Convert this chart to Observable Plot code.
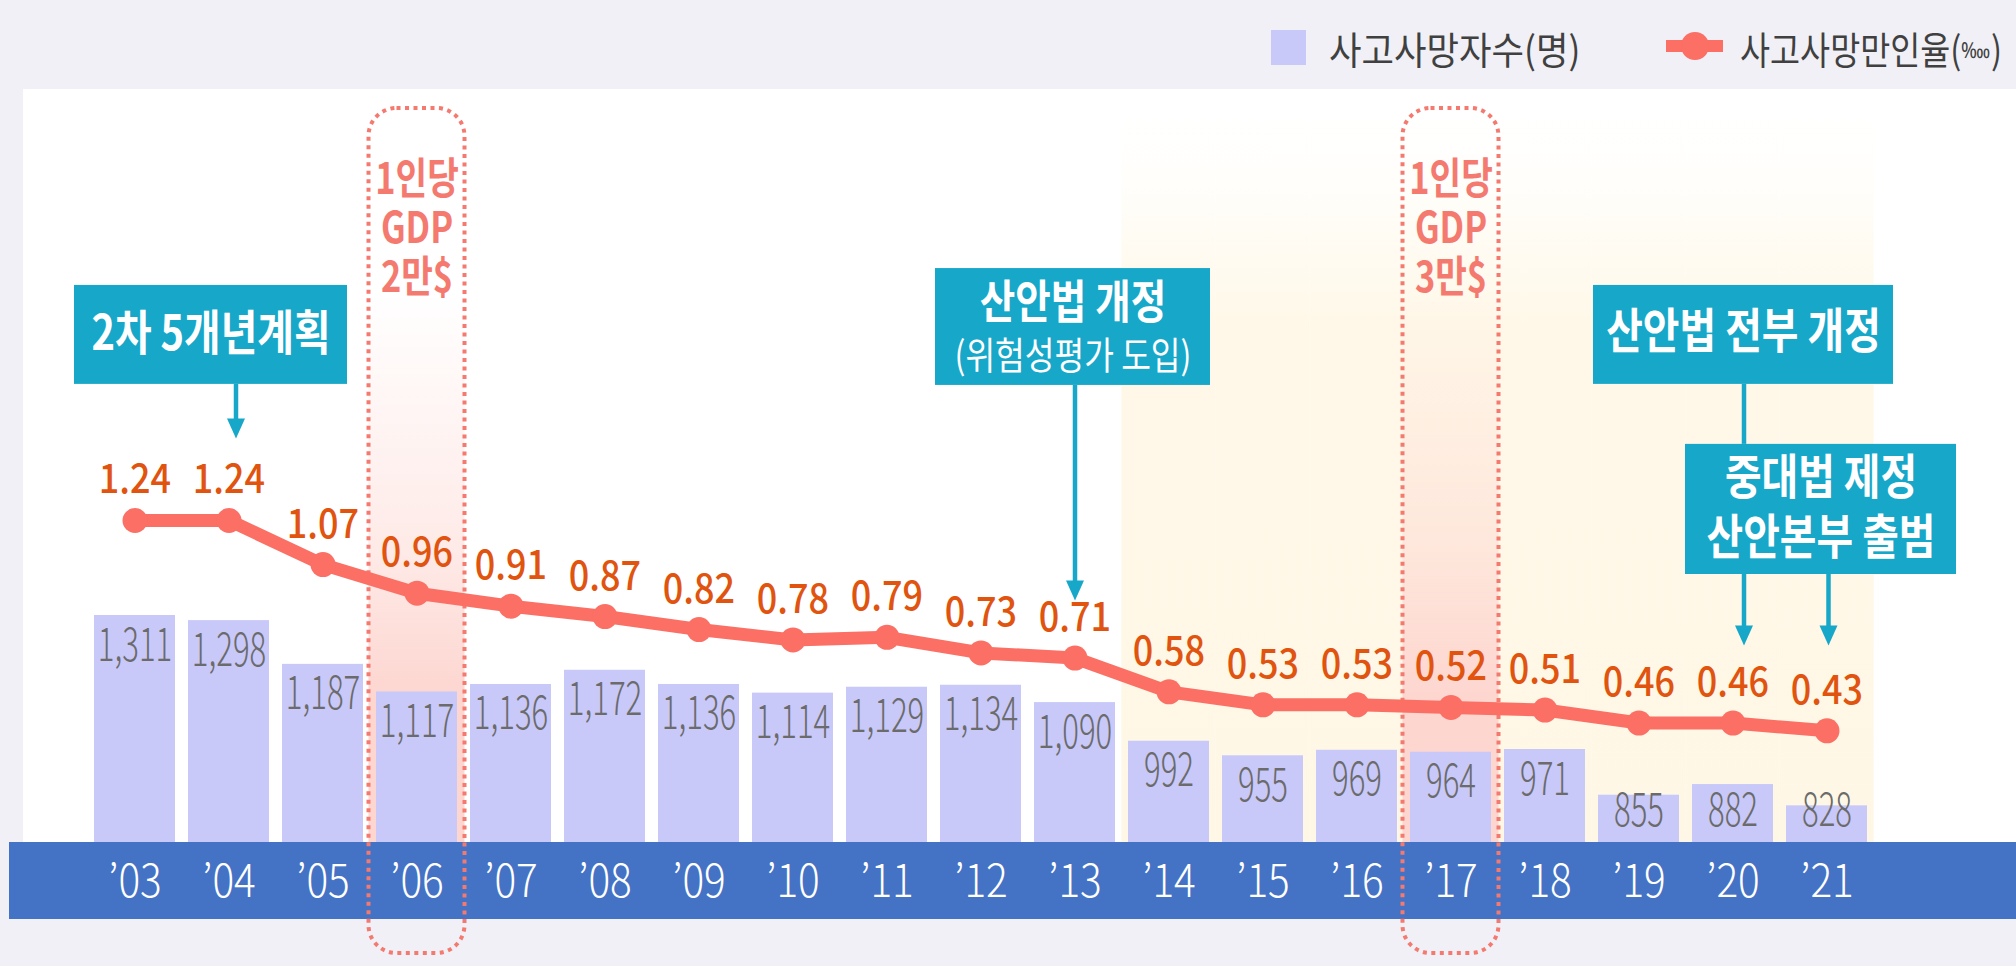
<!DOCTYPE html>
<html>
<head>
<meta charset="utf-8">
<script src="https://cdn.jsdelivr.net/npm/d3@7"></script>
<script src="https://cdn.jsdelivr.net/npm/@observablehq/plot@0.6"></script>
<style>
  html, body { margin: 0; padding: 0; background: #f0f0f6; }
  #wrap { position: relative; width: 2016px; height: 966px; overflow: hidden; font-family: "Noto Sans CJK KR", sans-serif; }
  #panel { position: absolute; left: 23px; top: 89px; width: 1993px; height: 753px; background: #ffffff; }
  #band { position: absolute; left: 9px; top: 842px; width: 2007px; height: 77px; background: #4472c4; }
  .layer { position: absolute; left: 0; top: 0; }
</style>
</head>
<body>
<div id="wrap">
  <div id="panel"></div>
  <div id="band"></div>
</div>
<script>
// ---------------- data ----------------
const years  = ["’03","’04","’05","’06","’07","’08","’09","’10","’11","’12","’13","’14","’15","’16","’17","’18","’19","’20","’21"];
const deaths = [1311, 1298, 1187, 1117, 1136, 1172, 1136, 1114, 1129, 1134, 1090, 992, 955, 969, 964, 971, 855, 882, 828];
const rates  = [1.24, 1.24, 1.07, 0.96, 0.91, 0.87, 0.82, 0.78, 0.79, 0.73, 0.71, 0.58, 0.53, 0.53, 0.52, 0.51, 0.46, 0.46, 0.43];
const gdpYears  = ["’06", "’17"];
const gdpLabels = ["1인당\nGDP\n2만$", "1인당\nGDP\n3만$"];
const creamYears = years.slice(11); // ’14 – ’21
const legendLabels = ["사고사망자수(명)", "사고사망만인율("];
const legendUnit = "‱";

// annotation boxes (y in ‰ units of the rate axis)
const noteBoxes = [
  {year: "’04", y1: 1.764, y2: 2.145, insetLeft: -114, insetRight: -78},
  {year: "’13", y1: 1.760, y2: 2.210, insetLeft: -99,  insetRight: -95},
  {year: "’20", y1: 1.764, y2: 2.145, insetLeft: -99,  insetRight: -120},
  {year: "’21", y1: 1.032, y2: 1.533, insetLeft: -101, insetRight: -89}
];
const noteTexts = [
  {year: "’04", y: 1.956, dx: -18,  text: "2차 5개년계획",     size: 48, weight: 700},
  {year: "’13", y: 2.077, dx: -2,   text: "산안법 개정",       size: 46, weight: 700},
  {year: "’13", y: 1.871, dx: -2,   text: "(위험성평가 도입)", size: 38, weight: 400},
  {year: "’20", y: 1.964, dx: 10.5, text: "산안법 전부 개정",  size: 48, weight: 700},
  {year: "’21", y: 1.403, dx: -6,   text: "중대법 제정",       size: 48, weight: 700},
  {year: "’21", y: 1.171, dx: -6,   text: "산안본부 출범",     size: 48, weight: 700}
];
const arrows = [
  {year: "’04", dx: 7,   from: 1.764, to: 1.556, head: true},
  {year: "’13", dx: 0,   from: 1.760, to: 0.932, head: true},
  {year: "’20", dx: 11,  from: 1.764, to: 1.533, head: false},
  {year: "’20", dx: 11,  from: 1.032, to: 0.759, head: true},
  {year: "’21", dx: 1.5, from: 1.032, to: 0.759, head: true}
];

const data = years.map((year, i) => ({year, deaths: deaths[i], rate: rates[i]}));

// ---------------- styles ----------------
const barColor = "#c8c8f9", lineColor = "#fb6f64", rateColor = "#e0540f",
      noteColor = "#17a7c9", gdpColor = "#f47a70", barTextColor = "#6b6b6b";
const W = 2016, H = 966;
const FONT = "Noto Sans CJK KR";
const xScale = {type: "band", domain: years, range: [87.5, 1873.5], paddingInner: 0.138, paddingOuter: 0.069, align: 0.5, axis: null};
// bar value labels stay inside the visible part of short bars
const labelFloor = 890;
// condensed look per font size
const condense = {46.5: 0.67, 40: 0.9, 45: 0.9, 43: 0.8, 48: 0.83, 46: 0.84, 38: 0.85};

function condenseText(t, s) {
  const tr = t.getAttribute("transform");
  if (tr) t.setAttribute("transform", `${tr} scale(${s},1)`);
  else {
    const x = +t.getAttribute("x") || 0, y = +t.getAttribute("y") || 0;
    t.setAttribute("transform", `translate(${x},${y}) scale(${s},1) translate(${-x},${-y})`);
  }
}
function condenseTexts(svg) {
  for (const t of svg.querySelectorAll("text")) {
    const g = t.closest("[font-size]");
    if (!g) continue;
    const s = condense[parseFloat(g.getAttribute("font-size"))];
    if (s) condenseText(t, s);
  }
}
function addDefs(svg, html) {
  const defs = document.createElementNS("http://www.w3.org/2000/svg", "defs");
  defs.innerHTML = html;
  svg.insertBefore(defs, svg.firstChild);
}

// ---------------- layer: highlights + bars + x labels ----------------
const barsLayer = Plot.plot({
  width: W, height: H,
  marginTop: 108, marginBottom: 124, marginLeft: 0, marginRight: 0,
  x: xScale,
  y: {domain: [735, 1311], range: [842, 615], axis: null},
  style: {background: "transparent", fontFamily: FONT, overflow: "visible"},
  marks: [
    Plot.cell(creamYears, {x: d => d, fill: "url(#creamGrad)", insetLeft: -6.6, insetRight: -6.6}),
    Plot.cell(gdpYears, {x: d => d, fill: "url(#pinkGrad)", insetLeft: -7.5, insetRight: -7.5}),
    Plot.barY(data, {x: "year", y: "deaths", fill: barColor, clip: true}),
    Plot.text(data, {x: "year", y: d => Math.max(d.deaths, labelFloor), text: d => d3.format(",")(d.deaths),
      lineAnchor: "top", dy: 12, fill: barTextColor, fontSize: 46.5, fontWeight: 300}),
    Plot.text(years, {x: d => d, frameAnchor: "bottom", lineAnchor: "middle", dy: 40,
      fill: "#ffffff", fontSize: 45, fontWeight: 300})
  ]
});
addDefs(barsLayer, `
  <linearGradient id="creamGrad" x1="0" y1="0" x2="0" y2="1">
    <stop offset="0" stop-color="#ffffff"/>
    <stop offset="0.1" stop-color="#fffefb"/>
    <stop offset="0.3" stop-color="#fff8e8"/>
    <stop offset="1" stop-color="#fff7e6"/>
  </linearGradient>
  <linearGradient id="pinkGrad" x1="0" y1="0" x2="0" y2="1">
    <stop offset="0" stop-color="#fdd6d0" stop-opacity="0"/>
    <stop offset="0.25" stop-color="#fdd6d0" stop-opacity="0"/>
    <stop offset="0.6" stop-color="#fdd6d0" stop-opacity="0.5"/>
    <stop offset="0.8" stop-color="#fdd6d0" stop-opacity="1"/>
    <stop offset="1" stop-color="#fdd6d0" stop-opacity="1"/>
  </linearGradient>`);

// ---------------- layer: borders, line, labels, annotations ----------------
const arrowHead = {draw(ctx) { ctx.moveTo(0, 0); ctx.lineTo(-9, -20); ctx.lineTo(9, -20); ctx.closePath(); }};

const topLayer = Plot.plot({
  width: W, height: H,
  marginTop: 108, marginBottom: 13, marginLeft: 0, marginRight: 0,
  x: xScale,
  y: {domain: [0, 1], range: [842, 582.3], axis: null},
  style: {background: "transparent", fontFamily: FONT, overflow: "visible"},
  marks: [
    Plot.cell(gdpYears, {x: d => d, fill: "none", stroke: gdpColor, strokeWidth: 4, strokeDasharray: "4 4.5",
      rx: 28, insetLeft: -7.5, insetRight: -7.5}),
    Plot.text(gdpYears, {x: d => d, y: () => 2.368, text: (d, i) => gdpLabels[i], lineAnchor: "middle",
      lineHeight: 1.14, fill: gdpColor, fontSize: 43, fontWeight: 700}),
    Plot.line(data, {x: "year", y: "rate", stroke: lineColor, strokeWidth: 13, strokeLinejoin: "round", strokeLinecap: "round"}),
    Plot.dot(data, {x: "year", y: "rate", r: 12.5, fill: lineColor}),
    Plot.text(data, {x: "year", y: "rate", text: d => d.rate.toFixed(2), lineAnchor: "bottom", dy: -27,
      fill: rateColor, fontSize: 40, fontWeight: 500}),
    ...noteBoxes.map(b => Plot.barY([b], {x: "year", y1: "y1", y2: "y2", fill: noteColor,
      insetLeft: b.insetLeft, insetRight: b.insetRight})),
    ...noteTexts.map(n => Plot.text([n], {x: "year", y: "y", text: "text", dx: n.dx, lineAnchor: "middle",
      fill: "#ffffff", fontSize: n.size, fontWeight: n.weight})),
    ...arrows.map(a => Plot.ruleX([a], {x: "year", y1: "from", y2: "to", dx: a.dx, stroke: noteColor,
      strokeWidth: 4.5, insetBottom: a.head ? 12 : 0})),
    ...arrows.filter(a => a.head).map(a => Plot.dot([a], {x: "year", y: "to", dx: a.dx, symbol: arrowHead,
      fill: noteColor}))
  ]
});

for (const svg of [barsLayer, topLayer]) {
  svg.classList.add("layer");
  document.getElementById("wrap").appendChild(svg);
  condenseTexts(svg);
}

// ---------------- legend ----------------
const legend = document.createElementNS("http://www.w3.org/2000/svg", "svg");
legend.setAttribute("class", "layer");
legend.setAttribute("width", W);
legend.setAttribute("height", 100);
legend.innerHTML = `
  <rect x="1271" y="30" width="35" height="35" fill="${barColor}"/>
  <text x="1329" y="64" font-size="38" fill="#404040" font-family="${FONT}"
    transform="translate(1329,0) scale(0.93,1) translate(-1329,0)">${legendLabels[0]}</text>
  <line x1="1666" x2="1723" y1="46" y2="46" stroke="${lineColor}" stroke-width="12"/>
  <circle cx="1695" cy="46" r="14" fill="${lineColor}"/>
  <text x="1740" y="64" font-size="38" fill="#404040" font-family="${FONT}"
    transform="translate(1740,0) scale(0.86,1) translate(-1740,0)">${legendLabels[1]}<tspan font-size="22" dy="-6">${legendUnit}</tspan><tspan dy="6">)</tspan></text>`;
document.getElementById("wrap").appendChild(legend);
</script>
</body>
</html>
